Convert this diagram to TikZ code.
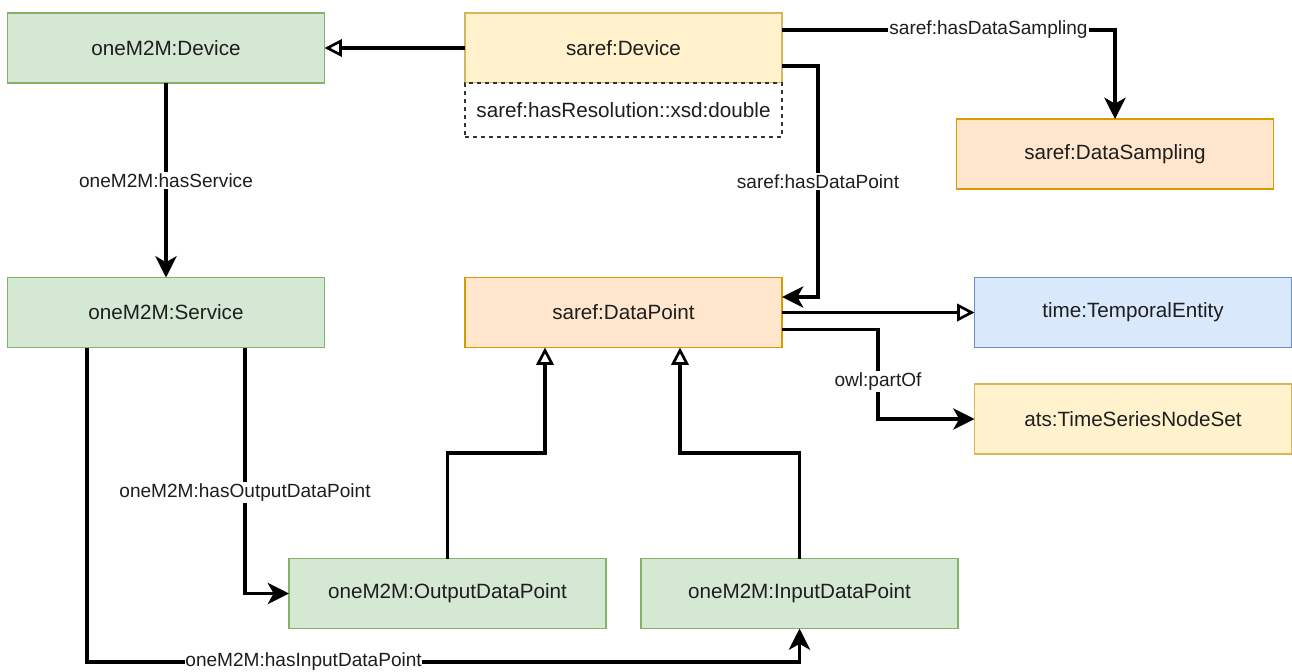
\documentclass[tikz,border=0pt]{standalone}
\usepackage{fontspec}
\setmainfont{Liberation Sans}
\usetikzlibrary{arrows.meta}
\definecolor{gfill}{HTML}{D5E8D4}\definecolor{gdraw}{HTML}{82B366}
\definecolor{yfill}{HTML}{FFF2CC}\definecolor{ydraw}{HTML}{D6B656}
\definecolor{ofill}{HTML}{FFE6CC}\definecolor{odraw}{HTML}{D79B00}
\definecolor{bfill}{HTML}{DAE8FC}\definecolor{bdraw}{HTML}{6C8EBF}
\definecolor{txt}{HTML}{1E1E1E}
\begin{document}
\begin{tikzpicture}[x=0.75pt,y=-0.75pt,
  box/.style={rectangle, draw, line width=0.9pt, minimum width=237.75pt, minimum height=52.5pt,
    inner sep=0pt, outer sep=0pt, text=txt, font=\fontsize{15.5}{18}\selectfont},
  green/.style={box, fill=gfill, draw=gdraw},
  yellow/.style={box, fill=yfill, draw=ydraw},
  orange/.style={box, fill=ofill, draw=odraw},
  blue/.style={box, fill=bfill, draw=bdraw},
  attr/.style={box, fill=white, draw=black!80, dashed, minimum height=40.5pt},
  lbl/.style={fill=white, inner sep=1pt, text=txt, font=\fontsize{14.3}{16}\selectfont},
  arr/.style={line width=2.4pt, -{Stealth[length=16pt,width=16pt,inset=4.5pt]}},
  gen/.style={line width=2.4pt, -{Triangle[open,length=13pt,width=13pt,line width=2pt]}}]
\useasboundingbox (0,0) rectangle (1292,671);

\node[green]  (d1)  at (166,48)    {oneM2M:Device};
\node[yellow] (sd)  at (623.5,48)  {saref:Device};
\node[attr]   (at)  at (623.5,110) {saref:hasResolution::xsd:double};
\node[orange] (ds)  at (1115,154)  {saref:DataSampling};
\node[green]  (svc) at (166,312.5) {oneM2M:Service};
\node[orange] (dp)  at (623.5,312.5) {saref:DataPoint};
\node[blue]   (te)  at (1133,312.5)  {time:TemporalEntity};
\node[yellow] (ts)  at (1133,419)  {ats:TimeSeriesNodeSet};
\node[green]  (odp) at (447.5,593.5) {oneM2M:OutputDataPoint};
\node[green]  (idp) at (799.5,593.5) {oneM2M:InputDataPoint};

\coordinate (k1) at (818,297);
\coordinate (k2) at (878,419);
\coordinate (g1) at (545,453);
\coordinate (g2) at (680,453);
\coordinate (b1) at (799.5,662);

\draw[gen] (sd.west) -- (d1.east);
\draw[arr] (d1.south) -- node[lbl]{oneM2M:hasService} (svc.north);
\draw[arr] ([yshift=13.5pt]sd.east) -| node[lbl,pos=0.31]{saref:hasDataSampling} (ds.north);
\draw[arr] ([yshift=-13.5pt]sd.east) -| node[lbl,pos=0.75]{saref:hasDataPoint} (k1) -- (k1 -| dp.east);
\draw[gen] (dp.east) -- (te.west);
\draw[arr] ([yshift=-13pt]dp.east) -| node[lbl,pos=0.79]{owl:partOf} (k2) -- (ts.west);
\draw[gen] (odp.north) |- (g1) -- (g1 |- dp.south);
\draw[gen] (idp.north) |- (g2) -- (g2 |- dp.south);
\draw[arr] ([xshift=59.25pt]svc.south) |- node[lbl,pos=0.295]{oneM2M:hasOutputDataPoint} (odp.west);
\draw[arr] ([xshift=-59.25pt]svc.south) |- node[lbl,pos=0.652,inner sep=0.5pt]{oneM2M:hasInputDataPoint} (b1) -- (idp.south);
\end{tikzpicture}
\end{document}
